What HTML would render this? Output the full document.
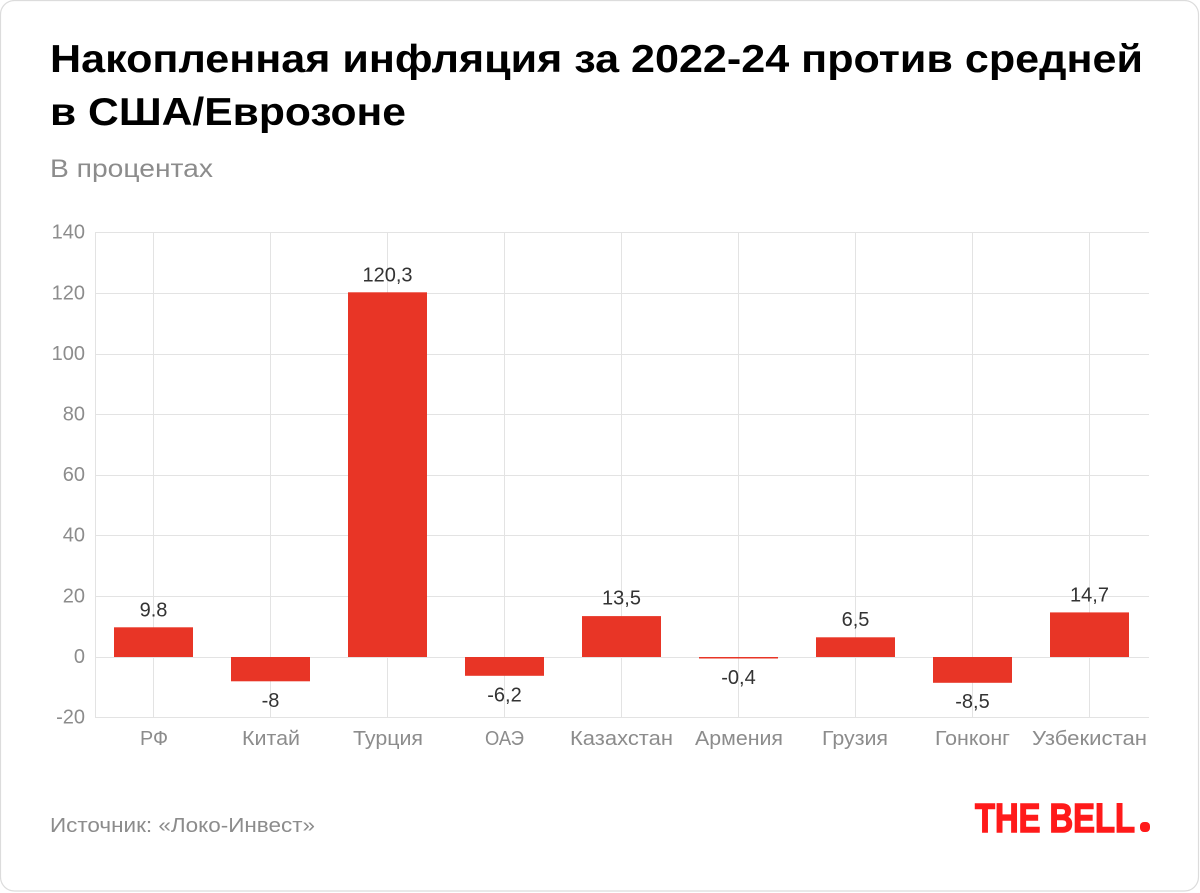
<!DOCTYPE html>
<html><head><meta charset="utf-8"><style>
html,body{margin:0;padding:0;background:#fff;}
svg{display:block;}
text{font-family:"Liberation Sans","DejaVu Sans",sans-serif;}
</style></head><body>
<svg width="1200" height="893" viewBox="0 0 1200 893" xmlns="http://www.w3.org/2000/svg">
<rect x="0.5" y="0.5" width="1198" height="890.5" rx="14" ry="14" fill="#fff" stroke="#dcdcdc" stroke-width="1.2"/>
<text x="50" y="72" font-size="39" font-weight="bold" fill="#000" textLength="1093" lengthAdjust="spacingAndGlyphs">Накопленная инфляция за 2022-24 против средней</text>
<text x="50" y="125" font-size="39" font-weight="bold" fill="#000" textLength="356" lengthAdjust="spacingAndGlyphs">в США/Еврозоне</text>
<text x="50" y="177" font-size="25" fill="#8c8c8c" textLength="163" lengthAdjust="spacingAndGlyphs">В процентах</text>
<g stroke="#e3e3e3" stroke-width="1">
<line x1="95" y1="232.5" x2="1149" y2="232.5"/>
<line x1="95" y1="293.5" x2="1149" y2="293.5"/>
<line x1="95" y1="354.5" x2="1149" y2="354.5"/>
<line x1="95" y1="414.5" x2="1149" y2="414.5"/>
<line x1="95" y1="475.5" x2="1149" y2="475.5"/>
<line x1="95" y1="535.5" x2="1149" y2="535.5"/>
<line x1="95" y1="596.5" x2="1149" y2="596.5"/>
<line x1="95" y1="657.5" x2="1149" y2="657.5"/>
<line x1="95" y1="717.5" x2="1149" y2="717.5"/>
<line x1="95.5" y1="232" x2="95.5" y2="718"/>
<line x1="153.5" y1="232" x2="153.5" y2="718"/>
<line x1="270.5" y1="232" x2="270.5" y2="718"/>
<line x1="387.5" y1="232" x2="387.5" y2="718"/>
<line x1="504.5" y1="232" x2="504.5" y2="718"/>
<line x1="621.5" y1="232" x2="621.5" y2="718"/>
<line x1="738.5" y1="232" x2="738.5" y2="718"/>
<line x1="855.5" y1="232" x2="855.5" y2="718"/>
<line x1="972.5" y1="232" x2="972.5" y2="718"/>
<line x1="1089.5" y1="232" x2="1089.5" y2="718"/>
</g>
<g font-size="20" fill="#8c8c8c" text-anchor="end">
<text x="85" y="238.5">140</text>
<text x="85" y="299.5">120</text>
<text x="85" y="360">100</text>
<text x="85" y="420.5">80</text>
<text x="85" y="481">60</text>
<text x="85" y="541.5">40</text>
<text x="85" y="602.5">20</text>
<text x="85" y="663">0</text>
<text x="85" y="723.5">-20</text>
</g>
<g fill="#e83526">
<rect x="114" y="627.3" width="79" height="29.7"/>
<rect x="231" y="657" width="79" height="24.3"/>
<rect x="348" y="292.3" width="79" height="364.7"/>
<rect x="465" y="657" width="79" height="18.8"/>
<rect x="582" y="616.1" width="79" height="40.9"/>
<rect x="699" y="657" width="79" height="1.5"/>
<rect x="816" y="637.3" width="79" height="19.7"/>
<rect x="933" y="657" width="79" height="25.8"/>
<rect x="1050" y="612.4" width="79" height="44.6"/>
</g>
<g font-size="20" fill="#333" text-anchor="middle">
<text x="153.5" y="616.5">9.8</text>
<text x="270.5" y="707">-8</text>
<text x="387.5" y="281.5">120,3</text>
<text x="504.5" y="701.5">-6,2</text>
<text x="621.5" y="604.5">13,5</text>
<text x="738.5" y="684">-0,4</text>
<text x="855.5" y="626">6,5</text>
<text x="972.5" y="708">-8,5</text>
<text x="1089.5" y="601.5">14,7</text>
</g>
<g font-size="20" fill="#8c8c8c">
<text x="140" y="745" textLength="28" lengthAdjust="spacingAndGlyphs">РФ</text>
<text x="242" y="745" textLength="58" lengthAdjust="spacingAndGlyphs">Китай</text>
<text x="353" y="745" textLength="70" lengthAdjust="spacingAndGlyphs">Турция</text>
<text x="485" y="745" textLength="39" lengthAdjust="spacingAndGlyphs">ОАЭ</text>
<text x="570" y="745" textLength="103" lengthAdjust="spacingAndGlyphs">Казахстан</text>
<text x="695" y="745" textLength="88" lengthAdjust="spacingAndGlyphs">Армения</text>
<text x="822" y="745" textLength="66" lengthAdjust="spacingAndGlyphs">Грузия</text>
<text x="935" y="745" textLength="75" lengthAdjust="spacingAndGlyphs">Гонконг</text>
<text x="1032" y="745" textLength="115" lengthAdjust="spacingAndGlyphs">Узбекистан</text>
</g>
<text x="50" y="832" font-size="20" fill="#8c8c8c" textLength="265" lengthAdjust="spacingAndGlyphs">Источник: «Локо-Инвест»</text>
<text x="975" y="832" font-size="41" font-weight="bold" fill="#ff1a1a" textLength="160" lengthAdjust="spacingAndGlyphs" stroke="#ff1a1a" stroke-width="1.5">THE BELL</text>
<rect x="1140" y="822" width="10" height="10" rx="4" fill="#ff1a1a"/>
</svg>
</body></html>
